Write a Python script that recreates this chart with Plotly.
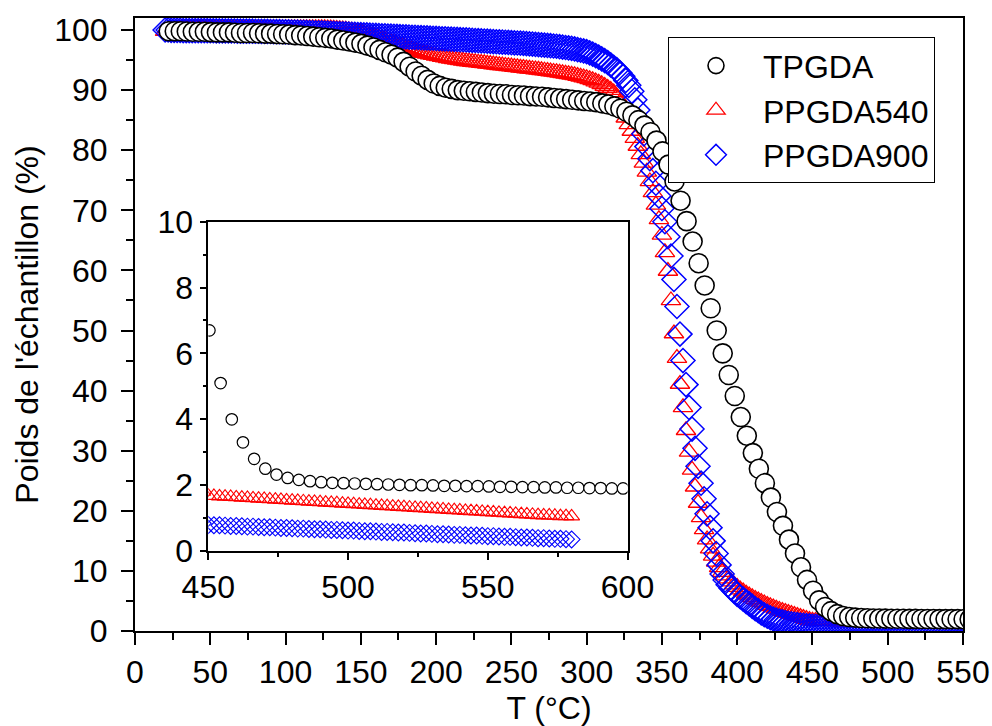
import plotly.graph_objects as go

# ---------------- data ----------------
T_TPGDA = [
    22.4, 26.4, 30.4, 34.4, 38.4, 42.4, 46.4, 50.4, 54.4, 58.4,
    62.4, 66.4, 70.4, 74.4, 78.4, 82.4, 86.4, 90.4, 94.4, 98.4,
    102.4, 106.4, 110.4, 114.4, 118.4, 122.4, 126.4, 130.4, 134.4, 138.4,
    142.4, 146.4, 150.4, 154.4, 158.4, 162.4, 166.4, 170.4, 174.4, 178.4,
    182.4, 186.4, 190.4, 194.4, 198.4, 202.4, 206.4, 210.4, 214.4, 218.4,
    222.4, 226.4, 230.4, 234.4, 238.4, 242.4, 246.4, 250.4, 254.4, 258.4,
    262.4, 266.4, 270.4, 274.4, 278.4, 282.4, 286.4, 290.4, 294.4, 298.4,
    302.4, 306.4, 310.4, 314.4, 318.4, 322.4, 326.4, 330.4, 334.4, 338.4,
    342.4, 346.4, 350.4, 354.4, 358.4, 362.4, 366.4, 370.4, 374.4, 378.4,
    382.4, 386.4, 390.4, 394.4, 398.4, 402.4, 406.4, 410.4, 414.4, 418.4,
    422.4, 426.4, 430.4, 434.4, 438.4, 442.4, 446.4, 450.4, 454.4, 458.4,
    462.4, 466.4, 470.4, 474.4, 478.4, 482.4, 486.4, 490.4, 494.4, 498.4,
    502.4, 506.4, 510.4, 514.4, 518.4, 522.4, 526.4, 530.4, 534.4, 538.4,
    542.4, 546.4, 550.4, 554.4, 558.4, 562.4, 566.4, 570.4, 574.4, 578.4,
    582.4, 586.4, 590.4, 594.4, 598.4,
]
W_TPGDA = [
    99.8, 99.8, 99.8, 99.75, 99.7, 99.7, 99.7, 99.65, 99.6, 99.6,
    99.6, 99.55, 99.5, 99.5, 99.5, 99.45, 99.4, 99.4, 99.35, 99.3,
    99.25, 99.15, 99.1, 99.0, 98.9, 98.8, 98.7, 98.6, 98.4, 98.25,
    98.1, 97.9, 97.7, 97.4, 97.1, 96.7, 96.3, 95.9, 95.4, 94.7,
    93.9, 93.1, 92.4, 91.7, 91.1, 90.7, 90.4, 90.2, 90.0, 89.9,
    89.8, 89.7, 89.6, 89.5, 89.4, 89.35, 89.3, 89.2, 89.15, 89.1,
    89.0, 88.95, 88.9, 88.8, 88.7, 88.6, 88.5, 88.4, 88.3, 88.2,
    88.1, 88.0, 87.8, 87.6, 87.3, 86.9, 86.4, 85.8, 85.0, 84.1,
    83.0, 81.6, 79.8, 77.6, 74.8, 71.6, 68.2, 64.8, 61.2, 57.5,
    53.7, 50.0, 46.2, 42.6, 39.1, 35.6, 32.5, 29.6, 27.0, 24.6,
    22.2, 19.8, 17.5, 15.2, 12.9, 10.6, 8.5, 6.7, 5.1, 4.0,
    3.3, 2.8, 2.5, 2.32, 2.22, 2.16, 2.12, 2.09, 2.07, 2.06,
    2.05, 2.04, 2.03, 2.02, 2.01, 2.0, 2.0, 1.99, 1.98, 1.98,
    1.97, 1.97, 1.96, 1.95, 1.95, 1.94, 1.94, 1.93, 1.93, 1.92,
    1.92, 1.91, 1.91, 1.9, 1.9,
]

T_PPGDA = [
    20, 22, 24, 26, 28, 30, 32, 34, 36, 38,
    40, 42, 44, 46, 48, 50, 52, 54, 56, 58,
    60, 62, 64, 66, 68, 70, 72, 74, 76, 78,
    80, 82, 84, 86, 88, 90, 92, 94, 96, 98,
    100, 102, 104, 106, 108, 110, 112, 114, 116, 118,
    120, 122, 124, 126, 128, 130, 132, 134, 136, 138,
    140, 142, 144, 146, 148, 150, 152, 154, 156, 158,
    160, 162, 164, 166, 168, 170, 172, 174, 176, 178,
    180, 182, 184, 186, 188, 190, 192, 194, 196, 198,
    200, 202, 204, 206, 208, 210, 212, 214, 216, 218,
    220, 222, 224, 226, 228, 230, 232, 234, 236, 238,
    240, 242, 244, 246, 248, 250, 252, 254, 256, 258,
    260, 262, 264, 266, 268, 270, 272, 274, 276, 278,
    280, 282, 284, 286, 288, 290, 292, 294, 296, 298,
    300, 302, 304, 306, 308, 310, 312, 314, 316, 318,
    320, 322, 324, 326, 328, 330, 332, 334, 336, 338,
    340, 342, 344, 346, 348, 350, 352, 354, 356, 358,
    360, 362, 364, 366, 368, 370, 372, 374, 376, 378,
    380, 382, 384, 386, 388, 390, 392, 394, 396, 398,
    400, 402, 404, 406, 408, 410, 412, 414, 416, 418,
    420, 422, 424, 426, 428, 430, 432, 434, 436, 438,
    440, 442, 444, 446, 448, 450, 452, 454, 456, 458,
    460, 462, 464, 466, 468, 470, 472, 474, 476, 478,
    480, 482, 484, 486, 488, 490, 492, 494, 496, 498,
    500, 502, 504, 506, 508, 510, 512, 514, 516, 518,
    520, 522, 524, 526, 528, 530, 532, 534, 536, 538,
    540, 542, 544, 546, 548, 550, 552, 554, 556, 558,
    560, 562, 564, 566, 568, 570, 572, 574, 576, 578,
    580,
]
W_PPGDA540 = [
    99.8, 99.9, 100.0, 100.08, 100.14, 100.18, 100.21, 100.23, 100.25, 100.26,
    100.27, 100.28, 100.29, 100.3, 100.3, 100.3, 100.3, 100.3, 100.3, 100.3,
    100.3, 100.3, 100.3, 100.3, 100.3, 100.3, 100.3, 100.3, 100.3, 100.3,
    100.3, 100.3, 100.3, 100.3, 100.3, 100.3, 100.3, 100.3, 100.3, 100.3,
    100.3, 100.3, 100.3, 100.3, 100.3, 100.3, 100.3, 100.3, 100.3, 100.3,
    100.3, 100.29, 100.28, 100.27, 100.25, 100.23, 100.2, 100.17, 100.13, 100.08,
    100.02, 99.95, 99.88, 99.8, 99.7, 99.6, 99.47, 99.34, 99.2, 99.05,
    98.9, 98.72, 98.54, 98.36, 98.18, 98.0, 97.82, 97.64, 97.46, 97.28,
    97.1, 96.93, 96.77, 96.61, 96.45, 96.3, 96.17, 96.05, 95.93, 95.81,
    95.7, 95.6, 95.5, 95.4, 95.3, 95.2, 95.12, 95.04, 94.96, 94.88,
    94.8, 94.74, 94.68, 94.62, 94.56, 94.5, 94.44, 94.38, 94.32, 94.26,
    94.2, 94.14, 94.08, 94.02, 93.96, 93.9, 93.84, 93.78, 93.72, 93.66,
    93.6, 93.54, 93.48, 93.42, 93.36, 93.3, 93.23, 93.16, 93.09, 93.02,
    92.95, 92.87, 92.79, 92.71, 92.63, 92.55, 92.45, 92.34, 92.22, 92.09,
    91.95, 91.8, 91.62, 91.42, 91.2, 90.95, 90.67, 90.35, 90.0, 89.6,
    88.9, 87.9, 86.6, 85.4, 84.3, 83.2, 82.0, 80.7, 79.3, 77.9,
    76.4, 74.8, 73.0, 70.9, 68.5, 65.9, 63.0, 59.9, 55.0, 49.5,
    45.4, 41.1, 37.2, 33.4, 29.8, 26.8, 24.0, 21.3, 18.9, 16.9,
    15.2, 13.7, 12.5, 11.5, 10.6, 9.8, 9.2, 8.7, 8.2, 7.7,
    7.3, 6.9, 6.55, 6.2, 5.9, 5.6, 5.3, 5.05, 4.8, 4.55,
    4.3, 4.1, 3.9, 3.7, 3.5, 3.32, 3.15, 2.98, 2.82, 2.66,
    2.5, 2.33, 2.15, 1.97, 1.8, 1.68, 1.67, 1.66, 1.65, 1.64,
    1.63, 1.62, 1.61, 1.60, 1.59, 1.58, 1.57, 1.56, 1.55, 1.54,
    1.53, 1.52, 1.51, 1.50, 1.49, 1.48, 1.47, 1.46, 1.45, 1.44,
    1.43, 1.42, 1.41, 1.40, 1.39, 1.38, 1.37, 1.36, 1.35, 1.34,
    1.33, 1.32, 1.31, 1.30, 1.29, 1.28, 1.27, 1.26, 1.25, 1.24,
    1.23, 1.22, 1.21, 1.20, 1.19, 1.18, 1.17, 1.16, 1.15, 1.14,
    1.13, 1.12, 1.11, 1.10, 1.09, 1.08, 1.08, 1.07, 1.06, 1.06,
    1.05,
]
W_PPGDA900 = [
    100.0, 100.0, 99.95, 99.95, 99.95, 99.95, 99.9, 99.9, 99.9, 99.9,
    99.9, 99.9, 99.9, 99.9, 99.9, 99.88, 99.88, 99.87, 99.86, 99.86,
    99.85, 99.85, 99.84, 99.84, 99.83, 99.83, 99.82, 99.82, 99.81, 99.81,
    99.8, 99.79, 99.78, 99.77, 99.76, 99.75, 99.74, 99.73, 99.72, 99.71,
    99.7, 99.69, 99.67, 99.66, 99.64, 99.63, 99.61, 99.6, 99.58, 99.57,
    99.55, 99.53, 99.51, 99.49, 99.47, 99.45, 99.43, 99.41, 99.39, 99.37,
    99.35, 99.33, 99.3, 99.28, 99.25, 99.23, 99.2, 99.18, 99.15, 99.13,
    99.1, 99.08, 99.05, 99.03, 99.0, 98.98, 98.95, 98.93, 98.9, 98.88,
    98.85, 98.83, 98.8, 98.78, 98.75, 98.73, 98.7, 98.68, 98.65, 98.63,
    98.6, 98.58, 98.55, 98.53, 98.5, 98.48, 98.45, 98.43, 98.4, 98.38,
    98.35, 98.32, 98.29, 98.26, 98.23, 98.2, 98.17, 98.14, 98.11, 98.08,
    98.05, 98.02, 97.99, 97.96, 97.93, 97.9, 97.87, 97.84, 97.81, 97.78,
    97.75, 97.7, 97.66, 97.61, 97.57, 97.52, 97.48, 97.43, 97.39, 97.34,
    97.3, 97.23, 97.16, 97.09, 97.02, 96.95, 96.85, 96.74, 96.63, 96.52,
    96.4, 96.2, 96.0, 95.75, 95.5, 95.2, 94.9, 94.6, 94.2, 93.8,
    93.4, 92.9, 92.3, 91.6, 90.8, 89.8, 88.4, 86.7, 84.7, 82.7,
    80.6, 78.6, 76.6, 74.5, 72.4, 70.3, 68.1, 65.6, 62.4, 58.5,
    54.0, 49.4, 45.0, 41.0, 37.2, 33.6, 30.4, 27.4, 24.6, 22.0,
    19.5, 17.2, 15.0, 12.9, 11.0, 9.5, 8.5, 7.7, 7.1, 6.6,
    6.1, 5.7, 5.3, 4.9, 4.5, 4.1, 3.7, 3.4, 3.0, 2.7,
    2.45, 2.2, 2.0, 1.82, 1.66, 1.52, 1.4, 1.29, 1.2, 1.12,
    1.05, 0.99, 0.94, 0.89, 0.84, 0.79, 0.78, 0.78, 0.77, 0.76,
    0.76, 0.75, 0.74, 0.74, 0.73, 0.72, 0.72, 0.71, 0.70, 0.70,
    0.69, 0.68, 0.68, 0.67, 0.66, 0.66, 0.65, 0.64, 0.64, 0.63,
    0.62, 0.62, 0.61, 0.60, 0.60, 0.59, 0.58, 0.58, 0.57, 0.56,
    0.56, 0.55, 0.54, 0.53, 0.53, 0.52, 0.51, 0.51, 0.50, 0.49,
    0.49, 0.48, 0.47, 0.47, 0.46, 0.45, 0.45, 0.44, 0.43, 0.43,
    0.42, 0.41, 0.41, 0.40, 0.39, 0.39, 0.38, 0.37, 0.37, 0.36,
    0.35,
]

assert len(T_TPGDA) == len(W_TPGDA)
assert len(T_PPGDA) == len(W_PPGDA540) == len(W_PPGDA900)

X_TICKS_MAIN = [0, 50, 100, 150, 200, 250, 300, 350, 400, 450, 500, 550]
Y_TICKS_MAIN = [0, 10, 20, 30, 40, 50, 60, 70, 80, 90, 100]
X_TICKS_INSET = [450, 500, 550, 600]
Y_TICKS_INSET = [0, 2, 4, 6, 8, 10]

FONT = "Liberation Sans, Arial, sans-serif"
W_PX, H_PX = 992, 726
L, R, T, B = 135, 29, 18, 95

fig = go.Figure()

# ---- main plot (red, blue, then black on top) ----
fig.add_trace(go.Scatter(
    x=T_PPGDA, y=W_PPGDA540, mode="markers", name="PPGDA540", legendrank=2,
    marker=dict(symbol="triangle-up-open", size=17, color="#ff0000",
                line=dict(width=1.3, color="#ff0000")),
    xaxis="x", yaxis="y"))
fig.add_trace(go.Scatter(
    x=T_PPGDA, y=W_PPGDA900, mode="markers", name="PPGDA900", legendrank=3,
    marker=dict(symbol="diamond-open", size=18.5, color="#0000ff",
                line=dict(width=1.5, color="#0000ff")),
    xaxis="x", yaxis="y"))
fig.add_trace(go.Scatter(
    x=T_TPGDA, y=W_TPGDA, mode="markers", name="TPGDA", legendrank=1,
    marker=dict(symbol="circle", size=19, color="white",
                line=dict(width=1.6, color="black")),
    xaxis="x", yaxis="y"))

# ---- inset ----
fig.add_trace(go.Scatter(
    x=T_PPGDA, y=W_PPGDA540, mode="markers", showlegend=False,
    marker=dict(symbol="triangle-up-open", size=14, color="#ff0000",
                line=dict(width=1.1, color="#ff0000")),
    xaxis="x2", yaxis="y2"))
fig.add_trace(go.Scatter(
    x=T_PPGDA, y=W_PPGDA900, mode="markers", showlegend=False,
    marker=dict(symbol="diamond-open", size=13, color="#0000ff",
                line=dict(width=1.1, color="#0000ff")),
    xaxis="x2", yaxis="y2"))
fig.add_trace(go.Scatter(
    x=T_TPGDA, y=W_TPGDA, mode="markers", showlegend=False,
    marker=dict(symbol="circle", size=11.5, color="white",
                line=dict(width=1.2, color="black")),
    xaxis="x2", yaxis="y2"))

plot_w = W_PX - L - R
plot_h = H_PX - T - B


def px_to_paper_x(px):
    return (px - L) / plot_w


def px_to_paper_y(py):
    return (H_PX - B - py) / plot_h


axis_common = dict(showline=True, linecolor="black", mirror=True,
                   showgrid=False, zeroline=False, ticks="outside",
                   tickcolor="black",
                   tickfont=dict(family=FONT, size=32, color="black"))

fig.update_layout(
    width=W_PX, height=H_PX,
    margin=dict(l=L, r=R, t=T, b=B, autoexpand=False),
    paper_bgcolor="white", plot_bgcolor="white",
    font=dict(family=FONT, size=32, color="black"),
    xaxis=dict(**axis_common, range=[0, 550], domain=[0, 1], anchor="y",
               linewidth=2, tickwidth=2, ticklen=12,
               tickvals=X_TICKS_MAIN,
               minor=dict(ticks="outside", dtick=25, tick0=0, ticklen=7,
                          tickwidth=2, tickcolor="black", showgrid=False),
               title=dict(text="T (°C)", font=dict(family=FONT, size=32),
                          standoff=12)),
    yaxis=dict(**axis_common, range=[0, 102], domain=[0, 1], anchor="x",
               linewidth=2, tickwidth=2, ticklen=12, ticklabelstandoff=7,
               tickvals=Y_TICKS_MAIN,
               minor=dict(ticks="outside", dtick=5, tick0=0, ticklen=7,
                          tickwidth=2, tickcolor="black", showgrid=False),
               title=dict(text="Poids de l'échantillon (%)",
                          font=dict(family=FONT, size=32), standoff=6)),
    xaxis2=dict(**axis_common, range=[450, 600],
                domain=[px_to_paper_x(208.3), px_to_paper_x(627.5)],
                anchor="y2", linewidth=1.5, tickwidth=1.5, ticklen=7,
                tickvals=X_TICKS_INSET,
                minor=dict(ticks="outside", dtick=25, tick0=450, ticklen=4,
                           tickwidth=1.5, tickcolor="black", showgrid=False)),
    yaxis2=dict(**axis_common, range=[0, 10],
                domain=[px_to_paper_y(551), px_to_paper_y(221.7)],
                anchor="x2", linewidth=1.5, tickwidth=1.5, ticklen=7,
                tickvals=Y_TICKS_INSET,
                minor=dict(ticks="outside", dtick=1, tick0=0, ticklen=4,
                           tickwidth=1.5, tickcolor="black", showgrid=False)),
    legend=dict(x=px_to_paper_x(668), y=px_to_paper_y(37.3),
                xanchor="left", yanchor="top",
                bgcolor="white", bordercolor="black", borderwidth=1,
                font=dict(family=FONT, size=32, color="black"),
                itemwidth=84, traceorder="normal"),
    showlegend=True,
)

# the page body's default 8px margin would push the figure off its frame
fig.write_html("out.html",
               config={"displayModeBar": False},
               post_script="document.body.style.margin='0px';")
